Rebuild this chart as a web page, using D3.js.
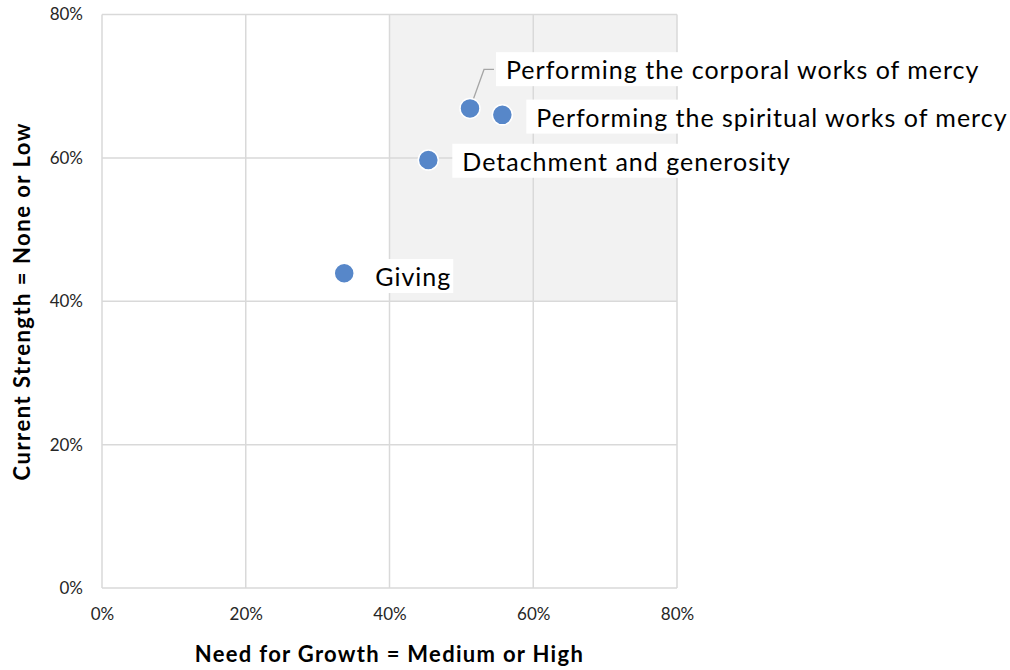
<!DOCTYPE html>
<html>
<head>
<meta charset="utf-8">
<script src="https://cdn.jsdelivr.net/npm/d3@7"></script>
<style>
  body { margin: 0; background: #fff; }
  svg text { font-family: Lato, "Open Sans", sans-serif; }
</style>
</head>
<body>
<div id="chart"></div>
<script>
// data
const names = [
  "Giving",
  "Detachment and generosity",
  "Performing the corporal works of mercy",
  "Performing the spiritual works of mercy"
];
const needForGrowth = [0.337, 0.454, 0.512, 0.557];
const currentStrength = [0.439, 0.597, 0.669, 0.66];
const tickValues = [0, 0.2, 0.4, 0.6, 0.8];

// label placement (px offsets from point)
const labelDx = [31, 34, 36, 34];
const labelDy = [4, 2, -38, 3];

const width = 1010,
  height = 670,
  margin = { top: 14.5, right: 333, bottom: 82, left: 102 };

const svg = d3.select("#chart")
  .append("svg")
  .attr("width", width)
  .attr("height", height);

const x = d3.scaleLinear().domain([0, 0.8]).range([margin.left, width - margin.right]);
const y = d3.scaleLinear().domain([0, 0.8]).range([height - margin.bottom, margin.top]);

// shaded quadrant
svg.append("rect")
  .attr("x", x(0.4))
  .attr("y", y(0.8))
  .attr("width", x(0.8) - x(0.4))
  .attr("height", y(0.4) - y(0.8))
  .attr("fill", "#f2f2f2");

// grid
const grid = svg.append("g").attr("stroke", "#d9d9d9").attr("stroke-width", 1.5);
grid.selectAll("line.v")
  .data(tickValues)
  .join("line")
  .attr("class", "v")
  .attr("x1", d => x(d)).attr("x2", d => x(d))
  .attr("y1", y(0)).attr("y2", y(0.8));
grid.selectAll("line.h")
  .data(tickValues)
  .join("line")
  .attr("class", "h")
  .attr("x1", x(0)).attr("x2", x(0.8))
  .attr("y1", d => y(d)).attr("y2", d => y(d));

// axes (labels only)
const fmt = d3.format(".0%");
const xAxis = svg.append("g")
  .attr("transform", `translate(0,${y(0)})`)
  .call(d3.axisBottom(x).tickValues(tickValues).tickFormat(fmt).tickSize(0).tickPadding(20));
const yAxis = svg.append("g")
  .attr("transform", `translate(${x(0)},0)`)
  .call(d3.axisLeft(y).tickValues(tickValues).tickFormat(fmt).tickSize(0).tickPadding(19));
[xAxis, yAxis].forEach(a => {
  a.select(".domain").remove();
  a.selectAll("text")
    .attr("fill", "#262626")
    .style("font-size", "17px")
    .style("font-family", "Lato, sans-serif");
});

// axis titles
svg.append("text")
  .attr("x", x(0.4))
  .attr("y", 662)
  .attr("text-anchor", "middle")
  .style("font-size", "22px")
  .style("font-weight", "bold")
  .style("letter-spacing", "1.3px")
  .attr("fill", "#000")
  .text("Need for Growth = Medium or High");

svg.append("text")
  .attr("transform", `translate(30,${y(0.4)}) rotate(-90)`)
  .attr("text-anchor", "middle")
  .style("font-size", "22px")
  .style("font-weight", "bold")
  .style("letter-spacing", "1.5px")
  .attr("fill", "#000")
  .text("Current Strength = None or Low");

const pts = names.map((n, i) => ({
  name: n, x: needForGrowth[i], y: currentStrength[i], dx: labelDx[i], dy: labelDy[i]
}));

// leader line for the corporal label
const corp = pts[2];
svg.append("polyline")
  .attr("points", [
    [x(corp.x), y(corp.y)],
    [x(corp.x) + 14, y(corp.y) - 39],
    [x(corp.x) + 24, y(corp.y) - 39]
  ].map(p => p.join(",")).join(" "))
  .attr("fill", "none")
  .attr("stroke", "#a6a6a6")
  .attr("stroke-width", 1.3);

// labels with white boxes
const labels = svg.append("g").selectAll("g")
  .data(pts)
  .join("g")
  .attr("transform", d => `translate(${x(d.x) + d.dx},${y(d.y) + d.dy})`);

labels.append("text")
  .attr("dy", "0.35em")
  .style("font-size", "25px")
  .style("letter-spacing", "1px")
  .attr("fill", "#000")
  .text(d => d.name);

labels.insert("rect", "text")
  .each(function () {
    const bb = this.parentNode.querySelector("text").getBBox();
    d3.select(this)
      .attr("x", bb.x - 10)
      .attr("y", bb.y - 2)
      .attr("width", bb.width + 12)
      .attr("height", bb.height + 4)
      .attr("fill", "#fff");
  });

// points
svg.append("g").selectAll("circle")
  .data(pts)
  .join("circle")
  .attr("cx", d => x(d.x))
  .attr("cy", d => y(d.y))
  .attr("r", 10)
  .attr("fill", "#5787c9")
  .attr("stroke", "#fff")
  .attr("stroke-width", 1.5);
</script>
</body>
</html>
